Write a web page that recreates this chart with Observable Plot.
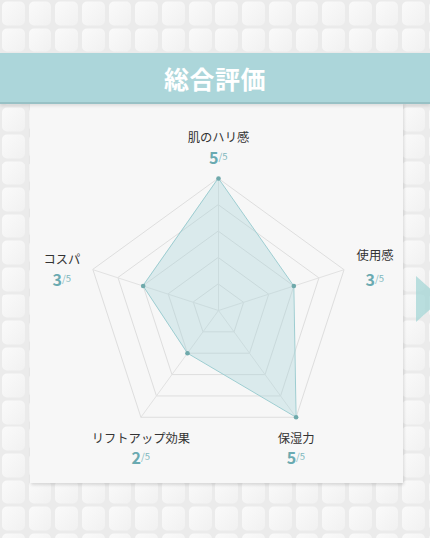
<!DOCTYPE html>
<html>
<head>
<meta charset="utf-8">
<script src="https://cdn.jsdelivr.net/npm/d3@7"></script>
<script src="https://cdn.jsdelivr.net/npm/@observablehq/plot@0.6"></script>
<style>
  html, body { margin: 0; padding: 0; }
  body {
    width: 430px; height: 538px; overflow: hidden; position: relative;
    font-family: "Noto Sans CJK JP", "Noto Sans", sans-serif;
    background-color: #efefef;
    background-image: url("data:image/svg+xml;utf8,<svg xmlns='http://www.w3.org/2000/svg' width='27' height='27'><defs><linearGradient id='g' x1='0' y1='0' x2='1' y2='1'><stop offset='0' stop-color='%23fafafa'/><stop offset='1' stop-color='%23f1f1f1'/></linearGradient></defs><rect width='27' height='27' fill='%23ebebeb'/><rect x='2' y='1.5' width='23' height='24' rx='5' fill='url(%23g)'/></svg>");
    background-size: 26.7px 26.6px;
  }
  #banner {
    position: absolute; left: 0; top: 53px; width: 430px; height: 49px;
    background: #acd6da; border-bottom: 2px solid #98c1c5;
    box-shadow: 0 2px 3px rgba(0,0,0,0.10);
    color: #fff; font-weight: bold; font-size: 25px; text-align: center;
    line-height: 50px; letter-spacing: 0.5px; z-index: 3;
  }
  #card {
    position: absolute; left: 30px; top: 103px; width: 373px; height: 380px;
    background: #f7f7f7; box-shadow: 1px 2px 3px rgba(0,0,0,0.13); z-index: 1;
  }
  #chart { position: absolute; left: 0; top: 103px; width: 430px; height: 380px; z-index: 2; }
  #arrow {
    position: absolute; left: 416px; top: 276px; width: 0; height: 0;
    border-top: 23px solid transparent; border-bottom: 23px solid transparent;
    border-left: 26px solid rgba(160, 212, 212, 0.7); z-index: 2;
  }
</style>
</head>
<body>
<div id="banner">総合評価</div>
<div id="card"></div>
<div id="arrow"></div>
<div id="chart"></div>
<script>
// ---- data ----
const categories = ["肌のハリ感", "使用感", "保湿力", "リフトアップ効果", "コスパ"];
const scores = [5, 3, 5, 2, 3];
const maxScore = 5;
const gridLevels = [1, 2, 3, 4, 5];
const maxLabel = "/5";

// ---- layout ----
const W = 430, H = 380;
const cx = 218, cy = 207, R = 132;
const k = R / maxScore; // px per unit
const n = categories.length;
const ang = i => (2 * Math.PI * i) / n;
const px = (r, i) => r * Math.sin(ang(i));
const py = (r, i) => r * Math.cos(ang(i));

const gridPts = gridLevels.flatMap(l => categories.map((c, i) => ({level: l, x: px(l, i), y: py(l, i)})));
const spokes = categories.map((c, i) => ({x: px(maxScore, i), y: py(maxScore, i)}));
const pts = categories.map((c, i) => ({name: c, v: scores[i], x: px(scores[i], i), y: py(scores[i], i)}));

// label offsets in px (screen), by direction
const labOff = [[0, -37, 0, -15], [31, -10, 31, 16], [0, 26, 0, 47], [0, 26, 0, 47], [-31, -6, -31, 16]];
const labels = categories.map((c, i) => {
  const vx = px(maxScore, i), vy = py(maxScore, i);
  const o = labOff[i];
  return {
    name: c, v: scores[i],
    lx: vx + o[0] / k, ly: vy - o[1] / k,
    sx: vx + o[2] / k, sy: vy - o[3] / k
  };
});

const chart = Plot.plot({
  width: W, height: H, margin: 0,
  style: {background: "transparent", fontFamily: "'Noto Sans CJK JP', 'Noto Sans', sans-serif"},
  x: {domain: [-cx / k, (W - cx) / k], axis: null},
  y: {domain: [-(H - cy) / k, cy / k], axis: null},
  marks: [
    Plot.line(gridPts, {x: "x", y: "y", z: "level", curve: "linear-closed", stroke: "#dedede", strokeWidth: 1}),
    Plot.link(spokes, {x1: 0, y1: 0, x2: "x", y2: "y", stroke: "#e2e2e2", strokeWidth: 1}),
    Plot.area(pts, {x1: "x", y1: "y", x2: 0, y2: 0, curve: "linear-closed", fill: "#a6d4d8", fillOpacity: 0.36}),
    Plot.line(pts, {x: "x", y: "y", curve: "linear-closed", stroke: "#9dcdd1", strokeWidth: 1}),
    Plot.dot(pts, {x: "x", y: "y", r: 2.3, fill: "#6fa9ab", stroke: "none"}),
    Plot.text(labels, {x: "lx", y: "ly", text: "name", fontSize: 12.3, fill: "#333", textAnchor: "middle", lineAnchor: "bottom"}),
    Plot.text(labels, {x: "sx", y: "sy", text: d => String(d.v), fontSize: 16, fontWeight: "bold", fill: "#6aaab1", textAnchor: "end", lineAnchor: "bottom"}),
    Plot.text(labels, {x: "sx", y: "sy", text: d => maxLabel, fontSize: 9.5, fill: "#7fb8be", textAnchor: "start", lineAnchor: "bottom", dy: -4})
  ]
});
document.getElementById("chart").appendChild(chart);
</script>
</body>
</html>
